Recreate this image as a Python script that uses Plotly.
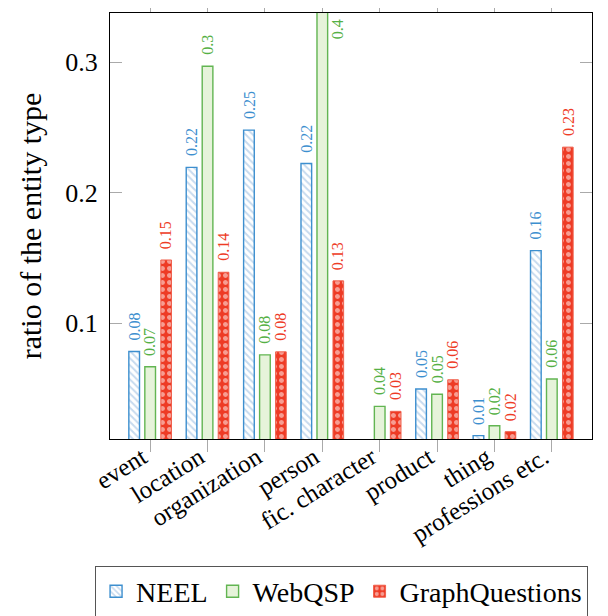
import plotly.graph_objects as go

# entity type ratios per dataset
categories = ["event", "location", "organization", "person",
              "fic. character", "product", "thing", "professions etc."]
neel = [0.0783, 0.2194, 0.2479, 0.2224, 0.0, 0.0495, 0.0138, 0.1556]
webqsp = [0.0666, 0.2969, 0.0757, 0.4, 0.0362, 0.0455, 0.0214, 0.0572]
graphquestions = [0.1484, 0.139, 0.078, 0.1324, 0.0324, 0.0566, 0.0168, 0.2349]

y_range = [0.0112, 0.3377]
serif = "Liberation Serif"


def label(v):
    # pgfplots-like rounding: two decimals, trailing zeros dropped
    s = f"{v:.2f}".rstrip("0")
    return s if not s.endswith(".") else s[:-1]


series = [
    ("NEEL", neel, dict(color="white", line=dict(color="#3d8fcf", width=1.4),
                        pattern=dict(shape="\\", fgcolor="#8fb6de", size=5,
                                     solidity=0.4, fillmode="overlay")),
     "#3d8fcf"),
    ("WebQSP", webqsp, dict(color="#e6f3da", line=dict(color="#62b552", width=1.4)),
     "#55b045"),
    ("GraphQuestions", graphquestions,
     dict(color="#ee3b25", line=dict(color="#f0604d", width=1),
          pattern=dict(shape=".", fgcolor="white", size=7, solidity=0.4,
                       fillmode="overlay")),
     "#ee3b25"),
]

fig = go.Figure()
annotations = []
for i, (name, vals, marker, txt_color) in enumerate(series):
    fig.add_trace(go.Bar(name=name, x=categories, y=vals, marker=marker))
    # value labels sit ~10px above each bar; bars past the top are pinned inside
    for cat, v in zip(categories, vals):
        if v < y_range[0]:
            continue
        clipped = v > y_range[1]
        annotations.append(dict(
            x=cat, y=min(v, y_range[1]), xref="x", yref="y", text=label(v),
            showarrow=False, textangle=-90, xanchor="center",
            yanchor="top" if clipped else "bottom",
            xshift=16 * (i - 1) + (15 if clipped else 0),
            yshift=-4 if clipped else 9,
            font=dict(family=serif, size=16, color=txt_color),
        ))

# page body adds 8px around the figure, margins account for it
fig.update_layout(
    width=608, height=616,
    margin=dict(l=102, r=24, t=5, b=185, autoexpand=False),
    plot_bgcolor="white", paper_bgcolor="white",
    barmode="group", bargap=0.164, bargroupgap=0.333,
    font=dict(family=serif, color="black"),
    annotations=annotations,
    showlegend=True,
    legend=dict(orientation="h", x=-0.031, y=-0.297, xanchor="left", yanchor="top",
                bordercolor="#555555", borderwidth=1,
                font=dict(family=serif, size=28), itemwidth=30),
)
fig.update_xaxes(
    range=[-0.7, 7.7], tickangle=-32, tickfont=dict(family=serif, size=25),
    ticklabelstandoff=-19, ticklabelshift=-8,
    showline=True, linecolor="black", linewidth=1.2, mirror="ticks",
    ticks="outside", ticklen=12, tickcolor="#aaaaaa", tickwidth=1,
    showgrid=False, automargin=False,
)
fig.update_yaxes(
    range=y_range, tickvals=[0.1, 0.2, 0.3], ticktext=["0.1", "0.2", "0.3"],
    tickfont=dict(family=serif, size=26), ticklabelstandoff=6,
    title=dict(text="ratio of the entity type", font=dict(family=serif, size=30),
               standoff=14),
    showline=True, linecolor="black", linewidth=1.2, mirror="ticks",
    ticks="inside", ticklen=12, tickcolor="#aaaaaa", tickwidth=1,
    showgrid=False, zeroline=False, automargin=False,
)

fig.write_html("out.html")
